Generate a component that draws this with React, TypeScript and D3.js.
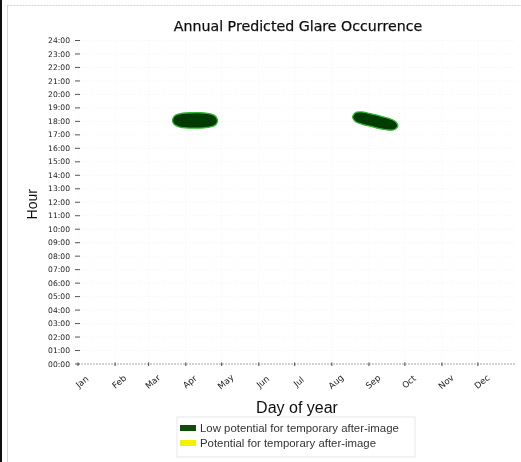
import React from "react";
import * as d3 from "d3";

const months = ["Jan", "Feb", "Mar", "Apr", "May", "Jun", "Jul", "Aug", "Sep", "Oct", "Nov", "Dec"];
const monthStartDays = [0, 31, 59, 90, 120, 151, 181, 212, 243, 273, 304, 334];
const hourTicks = d3.range(0, 25);

// Glare event 1 (spring): day of year, start hour, end hour
const springDays = [79, 80, 82, 85, 90, 96, 102, 108, 112, 115, 116.5];
const springStart = [18.0, 17.82, 17.68, 17.58, 17.52, 17.5, 17.5, 17.55, 17.62, 17.75, 17.97];
const springEnd = [18.12, 18.33, 18.48, 18.56, 18.62, 18.64, 18.64, 18.6, 18.52, 18.36, 18.12];

// Glare event 2 (late summer)
const autumnDays = [229.5, 231, 233, 237, 242, 248, 254, 259, 263, 265.5, 267];
const autumnStart = [18.25, 18.05, 17.92, 17.8, 17.68, 17.55, 17.43, 17.36, 17.36, 17.45, 17.62];
const autumnEnd = [18.38, 18.58, 18.68, 18.7, 18.62, 18.5, 18.36, 18.24, 18.1, 17.95, 17.76];

const legendLabels = ["Low potential for temporary after-image", "Potential for temporary after-image"];
const legendColors = ["#0b4f0b", "#f2f200"];

const W = 521;
const H = 462;
const x = d3.scaleLinear().domain([0, 365]).range([78, 515]);
const y = d3.scaleLinear().domain([0, 24]).range([364, 40.5]);

function blob(days: number[], s: number[], e: number[]) {
  const pts = days.map((d, i) => ({ d, s: s[i], e: e[i] }));
  return d3
    .area<{ d: number; s: number; e: number }>()
    .x((p) => x(p.d))
    .y0((p) => y(p.s))
    .y1((p) => y(p.e))
    .curve(d3.curveCatmullRom)(pts) as string;
}

const fmt = (h: number) => (h < 10 ? "0" + h : "" + h) + ":00";

export default function App() {
  return (
    <svg width={W} height={H} style={{ display: "block", position: "absolute", left: 0, top: 0, background: "#fff" }}>
      <defs>
        <filter id="soft" x="-20%" y="-50%" width="140%" height="200%">
          <feGaussianBlur stdDeviation="0.7" />
        </filter>
        <filter id="txt" x="-5%" y="-20%" width="110%" height="140%">
          <feGaussianBlur stdDeviation="0.25" />
        </filter>
      </defs>
      <rect width={W} height={H} fill="#fff" />
      {/* frame */}
      <rect x={0} y={0} width={2} height={H} fill="#111" />
      <line x1={7.5} y1={5} x2={7.5} y2={H} stroke="#d6d6d6" strokeWidth={1} />
      <line x1={7.5} y1={5.5} x2={W} y2={5.5} stroke="#d0d0d0" strokeWidth={1} strokeDasharray="2,1" />

      {/* faint grid */}
      <g stroke="#ececec" strokeWidth={0.6} strokeDasharray="1,2">
        {monthStartDays.map((d, i) => (
          <line key={"vg" + i} x1={x(d)} x2={x(d)} y1={y(24)} y2={y(0)} />
        ))}
        {hourTicks.filter((h) => h > 0).map((h) => (
          <line key={"hg" + h} x1={x(0)} x2={x(365)} y1={y(h)} y2={y(h)} />
        ))}
      </g>

      <g filter="url(#txt)">
        {/* title */}
        <text x={298} y={31} textAnchor="middle" fontFamily="DejaVu Sans" fontSize={14.2} fill="#111" stroke="#111" strokeWidth={0.25}>
          Annual Predicted Glare Occurrence
        </text>

        {/* y axis ticks */}
        <g fontFamily="DejaVu Sans" fontSize={7.6} fill="#222">
          {hourTicks.map((h) => (
            <g key={"yt" + h}>
              <text x={70} y={y(h) + 2.6} textAnchor="end">
                {fmt(h)}
              </text>
              <line x1={75} x2={80} y1={y(h)} y2={y(h)} stroke="#444" strokeWidth={0.9} />
            </g>
          ))}
        </g>
        <text
          transform={`translate(37,${y(12) + 2}) rotate(-90)`}
          textAnchor="middle"
          fontFamily="Liberation Sans"
          fontSize={14}
          fill="#111"
        >
          Hour
        </text>

        {/* x axis */}
        {monthStartDays.map((d, i) => (
          <g key={"xt" + i}>
            <text
              transform={`translate(${x(d) + 6},${y(0) + 20}) rotate(-40)`}
              textAnchor="middle"
              fontFamily="DejaVu Sans"
              fontSize={8.6}
              fill="#222"
            >
              {months[i]}
            </text>
          </g>
        ))}
        <text x={297} y={413} textAnchor="middle" fontFamily="Liberation Sans" fontSize={16} fill="#111">
          Day of year
        </text>

        {/* legend */}
        {legendLabels.map((lab, i) => (
          <text key={"lt" + i} x={200} y={432 + i * 15} fontFamily="Liberation Sans" fontSize={11.4} fill="#333">
            {lab}
          </text>
        ))}
      </g>

      <line x1={x(0)} x2={x(365)} y1={y(0)} y2={y(0)} stroke="#999" strokeWidth={0.9} strokeDasharray="2,1" />
      {monthStartDays.map((d, i) => (
        <line key={"tk" + i} x1={x(d)} x2={x(d)} y1={y(0) - 1.5} y2={y(0) + 2} stroke="#333" strokeWidth={0.9} />
      ))}

      {/* glare blobs */}
      <g filter="url(#soft)">
        <path d={blob(springDays, springStart, springEnd)} fill="#053a05" stroke="#2db52d" strokeWidth={1.3} />
        <path d={blob(autumnDays, autumnStart, autumnEnd)} fill="#053a05" stroke="#2db52d" strokeWidth={1.3} />
      </g>

      {/* legend box & swatches */}
      <rect x={177} y={417} width={238} height={40} fill="none" stroke="#e2e2e2" strokeWidth={0.8} />
      {legendColors.map((c, i) => (
        <rect key={"ls" + i} x={180} y={425 + i * 15} width={16} height={6} fill={c} />
      ))}
    </svg>
  );
}
